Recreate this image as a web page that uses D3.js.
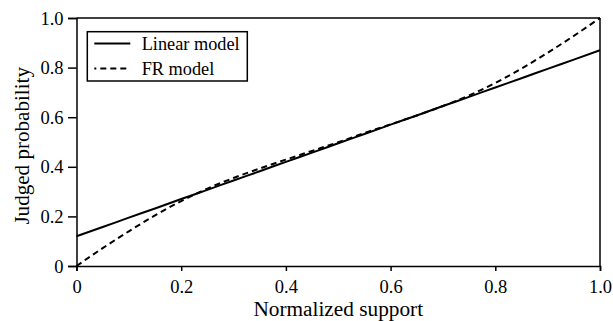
<!DOCTYPE html>
<html>
<head>
<meta charset="utf-8">
<script src="https://cdn.jsdelivr.net/npm/d3@7"></script>
<style>
body { margin: 0; background: #fff; }
text { font-family: "Liberation Serif", "Times New Roman", serif; fill: #000; }
</style>
</head>
<body>
<div id="content"></div>
<script>
var supportValues = [0, 0.05, 0.1, 0.15, 0.2, 0.25, 0.3, 0.35, 0.4, 0.45, 0.5,
    0.55, 0.6, 0.65, 0.7, 0.75, 0.8, 0.85, 0.9, 0.95, 1.0];
var linearModel = [0.12, 0.157, 0.195, 0.232, 0.27, 0.307, 0.345, 0.382, 0.42, 0.457, 0.495,
    0.532, 0.57, 0.607, 0.645, 0.682, 0.72, 0.757, 0.795, 0.832, 0.87];
var frModel = [0, 0.072, 0.14, 0.204, 0.262, 0.312, 0.355, 0.393, 0.429, 0.464, 0.499,
    0.536, 0.571, 0.607, 0.645, 0.688, 0.738, 0.796, 0.86, 0.928, 1.0];
var xTicks = [0, 0.2, 0.4, 0.6, 0.8, 1.0];
var yTicks = [0, 0.2, 0.4, 0.6, 0.8, 1.0];
var legendLabels = ["Linear model", "FR model"];

var margin = {top: 18, right: 13, bottom: 55, left: 76.5},
    width = 613 - margin.left - margin.right,
    height = 321 - margin.top - margin.bottom;

var svg = d3.select("div#content").append("svg")
    .attr("width", 613)
    .attr("height", 321)
    .append("g")
    .attr("transform", "translate(" + margin.left + "," + margin.top + ")");

var x = d3.scaleLinear().domain([0, 1]).range([0, width]);
var y = d3.scaleLinear().domain([0, 1]).range([height, 0]);

function fmt(d) { return d === 0 ? "0" : d3.format(".1f")(d); }

var xAxis = svg.append("g")
    .attr("transform", "translate(0," + height + ")")
    .call(d3.axisBottom(x).tickValues(xTicks).tickFormat(fmt).tickSize(5));

var yAxis = svg.append("g")
    .call(d3.axisLeft(y).tickValues(yTicks).tickFormat(fmt).tickSize(8.5));

[xAxis, yAxis].forEach(function(a) {
    a.select(".domain").attr("stroke-width", 1.5);
    a.selectAll(".tick line").attr("stroke-width", 1.5);
    a.selectAll("text").attr("font-size", 18.5).attr("fill", "#000");
});
xAxis.selectAll(".tick text").attr("y", 26.8).attr("dy", 0);
yAxis.selectAll(".tick text").attr("x", -13).attr("dy", "0.33em");

// top and right frame
svg.append("line").attr("x1", 0).attr("x2", width).attr("y1", 0).attr("y2", 0)
    .attr("stroke", "#000").attr("stroke-width", 1.5);
svg.append("line").attr("x1", width).attr("x2", width).attr("y1", 0).attr("y2", height)
    .attr("stroke", "#000").attr("stroke-width", 1.5);

var line = function(vals) {
    return d3.line()
        .x(function(d, i) { return x(supportValues[i]); })
        .y(function(d) { return y(d); })
        .curve(d3.curveMonotoneX)(vals);
};

svg.append("path")
    .attr("d", line(linearModel))
    .attr("fill", "none").attr("stroke", "#000").attr("stroke-width", 2);

svg.append("path")
    .attr("d", line(frModel))
    .attr("fill", "none").attr("stroke", "#000").attr("stroke-width", 2)
    .attr("stroke-dasharray", "6,4");

// axis labels
svg.append("text")
    .attr("x", width / 2).attr("y", 297.5)
    .attr("text-anchor", "middle").attr("font-size", 21.3)
    .text("Normalized support");

svg.append("text")
    .attr("transform", "rotate(-90)")
    .attr("x", -127.8).attr("y", -48)
    .attr("text-anchor", "middle").attr("font-size", 21.1)
    .text("Judged probability");

// legend
var legend = svg.append("g").attr("transform", "translate(" + (87.3 - margin.left) + "," + (31.7 - margin.top) + ")");
legend.append("rect")
    .attr("width", 160).attr("height", 49.3)
    .attr("fill", "#fff").attr("stroke", "#000").attr("stroke-width", 1.5);

legendLabels.forEach(function(lbl, i) {
    var ly = 11.8 + i * 25;
    legend.append("line")
        .attr("x1", 7).attr("x2", 43).attr("y1", ly).attr("y2", ly)
        .attr("stroke", "#000").attr("stroke-width", 2)
        .attr("stroke-dasharray", i === 1 ? "2,4,6,4,6,4,6,4" : null);
    legend.append("text")
        .attr("x", 54.4).attr("y", ly + 6.5)
        .attr("font-size", 18.3)
        .text(lbl);
});
</script>
</body>
</html>
